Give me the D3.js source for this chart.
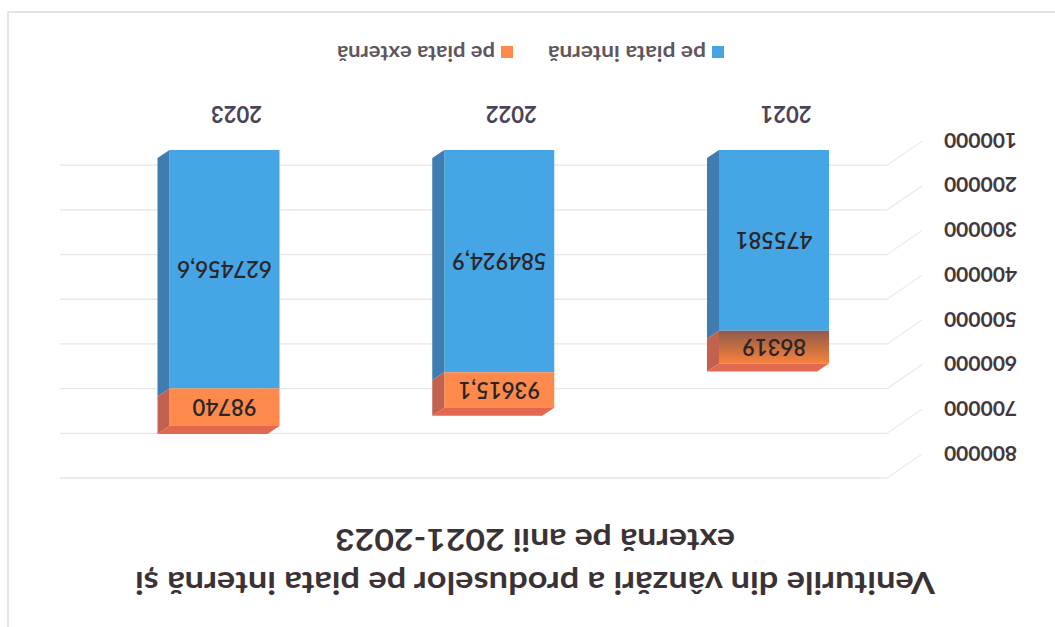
<!DOCTYPE html>
<html>
<head>
<meta charset="utf-8">
<script src="https://cdnjs.cloudflare.com/ajax/libs/d3/7.8.5/d3.min.js"></script>
<style>
  html, body { margin: 0; padding: 0; background: #ffffff; }
  svg { display: block; }
</style>
</head>
<body>
<svg id="chart" width="1055" height="627"></svg>
<script>
const categories = ["2021", "2022", "2023"];
const seriesNames = ["pe piata internă", "pe piata externă"];
const internValues = [475581, 584924.9, 627456.6];
const externValues = [86319, 93615.1, 98740];
const tickValues = [100000, 200000, 300000, 400000, 500000, 600000, 700000, 800000];
const titleLines = ["Veniturile din vânzări a produselor pe piata internă și", "externă pe anii 2021-2023"];

const W = 1055, H = 627;
const svg = d3.select("#chart");
svg.append("rect").attr("width", W).attr("height", H).attr("fill", "#ffffff");

const defs = svg.append("defs");
const grad = defs.append("linearGradient").attr("id", "scanOrange")
  .attr("x1", 0).attr("y1", 1).attr("x2", 0).attr("y2", 0);
grad.append("stop").attr("offset", "0%").attr("stop-color", "#8e5a4e");
grad.append("stop").attr("offset", "55%").attr("stop-color", "#c9703f");
grad.append("stop").attr("offset", "100%").attr("stop-color", "#f9823f");

// The reference is a scanned page turned upside down: draw normally, then turn 180°.
const g = svg.append("g").attr("transform", `rotate(180, ${W / 2}, ${H / 2})`);

g.append("rect").attr("x", -5).attr("y", -13).attr("width", 1052).attr("height", 628)
  .attr("fill", "none").attr("stroke", "#dcdcdc").attr("stroke-width", 1.5);

const colors = {
  front: ["#46a5e5", "#fd8a4c"],
  side: ["#3f7db0", "#c2614f"],
  top: ["#5ab0e8", "#e2694f"]
};
const depth = { dx: 12, dy: -8 };
const barW = 110;

const x = d3.scalePoint().domain(categories).range([281, 830.5]);
const yFront = d3.scaleLinear().domain([0, 800000]).range([477, 173]);
const yBack = d3.scaleLinear().domain([0, 800000]).range([506.5, 149]);
const yLabel = d3.scaleLinear().domain([0, 800000]).range([531.7, 174]);

// back wall gridlines + side-wall diagonals
const wallLeft = 168, wallRight = 995, sideLeft = 133;
const grid = g.append("g");
tickValues.forEach(v => {
  grid.append("line").attr("x1", wallLeft).attr("x2", wallRight)
    .attr("y1", yBack(v)).attr("y2", yBack(v))
    .attr("stroke", "#e6e6e6").attr("stroke-width", 1.3);
  grid.append("line").attr("x1", sideLeft).attr("x2", wallLeft)
    .attr("y1", yBack(v) + 24).attr("y2", yBack(v))
    .attr("stroke", "#ececec").attr("stroke-width", 1.3);
});

// value axis labels
const axis = d3.axisLeft(yLabel).tickValues(tickValues).tickSize(0).tickPadding(0)
  .tickFormat(d => String(d));
const axG = g.append("g").attr("transform", "translate(111,0)").call(axis);
axG.select(".domain").remove();
axG.selectAll("text").attr("font-family", "Lato, 'Open Sans', sans-serif")
  .attr("font-weight", "bold").attr("font-size", 21).attr("fill", "#43383d");

// stacked 3D bars
const rows = categories.map((c, i) => ({ cat: c, vals: [internValues[i], externValues[i]] }));
const bars = g.append("g");
rows.forEach((r, ci) => {
  const cx = x(r.cat);
  const x0 = cx - barW / 2, x1 = cx + barW / 2;
  let acc = 0;
  r.vals.forEach((v, si) => {
    const yb = yFront(acc), yt = yFront(acc + v);
    acc += v;
    const fill = (ci === 0 && si === 1) ? "url(#scanOrange)" : colors.front[si];
    bars.append("rect").attr("x", x0).attr("y", yt).attr("width", barW).attr("height", yb - yt)
      .attr("fill", fill);
    bars.append("polygon").attr("points", [
      [x1, yb], [x1, yt], [x1 + depth.dx, yt + depth.dy], [x1 + depth.dx, yb + depth.dy]
    ].map(p => p.join(",")).join(" ")).attr("fill", colors.side[si]);
    if (si === r.vals.length - 1) {
      bars.append("polygon").attr("points", [
        [x0, yt], [x1, yt], [x1 + depth.dx, yt + depth.dy], [x0 + depth.dx, yt + depth.dy]
      ].map(p => p.join(",")).join(" ")).attr("fill", colors.top[si]);
    }
    bars.append("text").attr("x", cx).attr("y", (yb + yt) / 2).attr("dy", "0.36em")
      .attr("text-anchor", "middle")
      .attr("font-family", "Lato, 'Open Sans', sans-serif").attr("font-size", 22)
      .attr("font-weight", 600)
      .attr("fill", "#2b2526")
      .text(String(v).replace(".", ","));
  });
});

// category labels
categories.forEach(c => {
  g.append("text").attr("x", x(c) - 12).attr("y", 521).attr("text-anchor", "middle")
    .attr("font-family", "Lato, 'Open Sans', sans-serif").attr("font-weight", "bold")
    .attr("font-size", 22).attr("fill", "#4a4456").text(c);
});

// title
const titleY = [55, 98], titleLen = [800, 400];
titleLines.forEach((t, i) => {
  g.append("text").attr("x", 520).attr("y", titleY[i]).attr("text-anchor", "middle")
    .attr("font-family", "Lato, 'Open Sans', sans-serif").attr("font-weight", "bold")
    .attr("font-size", 30).attr("fill", "#3b3236")
    .attr("textLength", titleLen[i]).attr("lengthAdjust", "spacingAndGlyphs")
    .text(t);
});

// legend
const legendX = [331, 542];
seriesNames.forEach((s, i) => {
  const lg = g.append("g").attr("transform", `translate(${legendX[i]},575)`);
  lg.append("rect").attr("x", 0).attr("y", -6).attr("width", 12).attr("height", 12)
    .attr("fill", colors.front[i]);
  lg.append("text").attr("x", 18).attr("y", 6)
    .attr("font-family", "Lato, 'Open Sans', sans-serif").attr("font-weight", "bold")
    .attr("font-size", 20).attr("fill", "#5f575d")
    .attr("textLength", 158).attr("lengthAdjust", "spacingAndGlyphs").text(s);
});
</script>
</body>
</html>
